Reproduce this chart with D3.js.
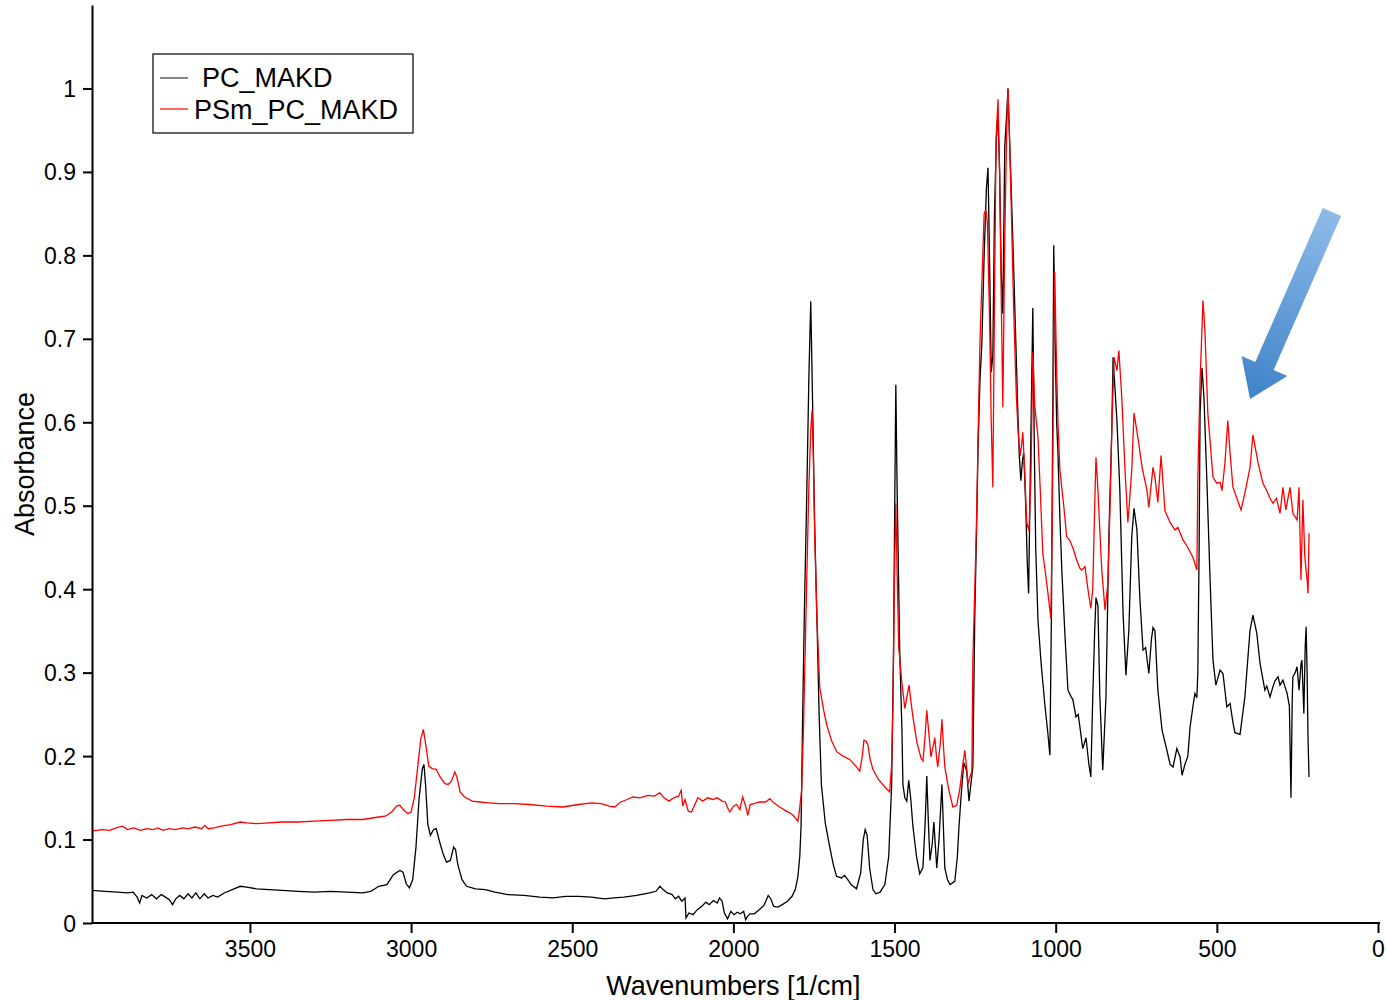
<!DOCTYPE html>
<html>
<head>
<meta charset="utf-8">
<script src="https://cdn.jsdelivr.net/npm/d3@7"></script>
<style>
  body { margin: 0; background: #fff; }
  .line { fill: none; stroke-width: 1.3px; }
  .line1 { stroke: #000; }
  .line2 { stroke: #ff0000; }
  .axis text { font-family: "Liberation Sans", Arial, sans-serif; font-size: 23px; fill: #000; }
  .axis path, .axis line { stroke: #000; stroke-width: 2px; }
  .title { font-family: "Liberation Sans", Arial, sans-serif; font-size: 27px; fill: #000; }
</style>
</head>
<body>
<script>
// spectra: [wavenumber, absorbance]
var pcMakd = [[3990,0.039],[3950,0.038],[3910,0.037],[3880,0.036],[3862,0.037],[3850,0.031],[3842,0.024],[3835,0.033],[3820,0.030],[3805,0.034],[3790,0.029],[3775,0.034],[3762,0.031],[3750,0.028],[3740,0.022],[3730,0.029],[3718,0.033],[3705,0.029],[3692,0.035],[3680,0.030],[3668,0.036],[3655,0.029],[3642,0.035],[3630,0.030],[3615,0.033],[3600,0.031],[3580,0.036],[3555,0.040],[3530,0.044],[3510,0.043],[3480,0.041],[3440,0.040],[3400,0.039],[3350,0.038],[3300,0.037],[3250,0.038],[3200,0.037],[3150,0.036],[3125,0.038],[3100,0.044],[3075,0.046],[3055,0.058],[3035,0.063],[3025,0.061],[3015,0.047],[3005,0.042],[2995,0.052],[2985,0.090],[2975,0.150],[2965,0.185],[2960,0.190],[2955,0.165],[2948,0.118],[2940,0.105],[2930,0.112],[2922,0.113],[2912,0.098],[2900,0.082],[2890,0.073],[2878,0.075],[2868,0.091],[2862,0.088],[2855,0.070],[2842,0.052],[2828,0.044],[2800,0.041],[2770,0.040],[2740,0.037],[2700,0.034],[2650,0.033],[2600,0.031],[2560,0.030],[2520,0.032],[2480,0.032],[2440,0.031],[2400,0.029],[2370,0.030],[2340,0.031],[2300,0.033],[2260,0.036],[2240,0.038],[2228,0.044],[2218,0.040],[2205,0.036],[2190,0.034],[2180,0.029],[2170,0.032],[2160,0.026],[2150,0.030],[2147,0.006],[2138,0.012],[2125,0.010],[2112,0.016],[2098,0.020],[2085,0.025],[2075,0.022],[2062,0.027],[2050,0.024],[2043,0.030],[2035,0.026],[2028,0.012],[2018,0.005],[2008,0.014],[1998,0.010],[1988,0.013],[1978,0.011],[1968,0.014],[1962,0.004],[1956,0.008],[1948,0.011],[1935,0.011],[1920,0.016],[1905,0.021],[1892,0.033],[1884,0.029],[1875,0.020],[1862,0.019],[1848,0.022],[1832,0.026],[1818,0.032],[1808,0.040],[1800,0.055],[1794,0.080],[1790,0.116],[1785,0.250],[1780,0.368],[1772,0.520],[1766,0.650],[1760,0.745],[1755,0.640],[1748,0.480],[1741,0.368],[1734,0.250],[1727,0.166],[1715,0.120],[1701,0.091],[1690,0.070],[1680,0.056],[1665,0.054],[1655,0.057],[1645,0.052],[1635,0.046],[1618,0.041],[1605,0.060],[1597,0.100],[1591,0.112],[1585,0.105],[1577,0.065],[1567,0.040],[1558,0.035],[1545,0.037],[1530,0.046],[1518,0.080],[1509,0.166],[1503,0.330],[1499,0.520],[1496,0.645],[1492,0.520],[1487,0.400],[1484,0.327],[1477,0.230],[1474,0.166],[1468,0.150],[1462,0.146],[1456,0.171],[1450,0.150],[1443,0.116],[1432,0.080],[1422,0.059],[1412,0.066],[1405,0.120],[1400,0.176],[1395,0.120],[1390,0.075],[1383,0.095],[1378,0.121],[1373,0.090],[1369,0.066],[1362,0.100],[1353,0.166],[1348,0.110],[1344,0.066],[1336,0.052],[1328,0.046],[1313,0.050],[1305,0.080],[1300,0.116],[1292,0.160],[1285,0.192],[1276,0.182],[1269,0.146],[1262,0.170],[1257,0.187],[1251,0.368],[1245,0.480],[1241,0.569],[1235,0.650],[1229,0.695],[1222,0.800],[1215,0.880],[1210,0.905],[1205,0.790],[1200,0.660],[1195,0.680],[1190,0.850],[1184,0.940],[1179,0.968],[1174,0.900],[1169,0.780],[1164,0.730],[1158,0.930],[1152,0.970],[1148,1.000],[1144,0.950],[1138,0.880],[1130,0.780],[1124,0.700],[1118,0.620],[1113,0.560],[1108,0.530],[1103,0.555],[1099,0.563],[1093,0.500],[1088,0.430],[1084,0.395],[1078,0.560],[1071,0.737],[1066,0.560],[1062,0.450],[1055,0.363],[1045,0.310],[1034,0.263],[1025,0.230],[1018,0.201],[1013,0.380],[1009,0.620],[1006,0.812],[1002,0.700],[997,0.600],[993,0.563],[987,0.486],[981,0.423],[971,0.343],[962,0.279],[952,0.271],[947,0.268],[937,0.247],[930,0.250],[916,0.209],[906,0.222],[897,0.190],[891,0.175],[885,0.271],[879,0.350],[875,0.390],[869,0.380],[863,0.271],[854,0.183],[844,0.271],[835,0.463],[826,0.590],[822,0.678],[816,0.640],[810,0.602],[801,0.519],[791,0.371],[782,0.297],[773,0.351],[764,0.463],[757,0.497],[748,0.471],[739,0.390],[729,0.327],[721,0.330],[711,0.299],[703,0.340],[698,0.354],[692,0.350],[683,0.279],[670,0.231],[655,0.207],[645,0.190],[636,0.187],[624,0.209],[614,0.199],[608,0.177],[599,0.190],[590,0.200],[583,0.235],[574,0.260],[568,0.275],[562,0.270],[559,0.300],[555,0.450],[552,0.611],[546,0.665],[540,0.630],[531,0.531],[521,0.411],[512,0.315],[503,0.285],[490,0.303],[481,0.299],[469,0.259],[459,0.263],[450,0.240],[444,0.228],[428,0.226],[413,0.271],[397,0.351],[388,0.369],[376,0.347],[366,0.311],[351,0.279],[345,0.284],[335,0.271],[326,0.283],[320,0.290],[310,0.295],[304,0.285],[295,0.291],[286,0.280],[282,0.275],[275,0.260],[270,0.150],[266,0.270],[264,0.295],[257,0.300],[251,0.307],[245,0.279],[239,0.310],[236,0.315],[230,0.251],[226,0.330],[223,0.355],[220,0.300],[217,0.219],[214,0.175]];

var psmPcMakd = [[3990,0.110],[3960,0.112],[3935,0.111],[3915,0.114],[3895,0.116],[3880,0.112],[3860,0.114],[3840,0.111],[3820,0.113],[3800,0.112],[3785,0.114],[3770,0.111],[3750,0.113],[3730,0.112],[3710,0.114],[3690,0.113],[3670,0.115],[3650,0.113],[3640,0.117],[3630,0.113],[3610,0.114],[3590,0.116],[3560,0.118],[3530,0.121],[3510,0.120],[3480,0.119],[3440,0.120],[3400,0.121],[3350,0.121],[3300,0.122],[3250,0.123],[3200,0.124],[3150,0.124],[3100,0.127],[3080,0.128],[3060,0.133],[3045,0.140],[3035,0.141],[3022,0.135],[3010,0.131],[3000,0.133],[2990,0.150],[2980,0.185],[2970,0.220],[2962,0.232],[2955,0.215],[2945,0.188],[2935,0.185],[2922,0.184],[2910,0.175],[2895,0.167],[2885,0.166],[2875,0.170],[2864,0.181],[2858,0.175],[2848,0.157],[2834,0.151],[2810,0.146],[2787,0.145],[2760,0.144],[2725,0.143],[2680,0.143],[2632,0.142],[2580,0.140],[2530,0.139],[2480,0.142],[2440,0.144],[2410,0.143],[2385,0.140],[2368,0.139],[2350,0.145],[2330,0.148],[2312,0.151],[2290,0.150],[2265,0.153],[2245,0.152],[2228,0.156],[2215,0.150],[2200,0.146],[2185,0.150],[2170,0.152],[2162,0.159],[2157,0.140],[2150,0.148],[2140,0.134],[2130,0.133],[2122,0.140],[2110,0.150],[2095,0.146],[2080,0.150],[2064,0.148],[2050,0.150],[2035,0.146],[2025,0.145],[2018,0.138],[2011,0.133],[2000,0.140],[1990,0.142],[1980,0.136],[1971,0.151],[1962,0.140],[1955,0.129],[1948,0.142],[1935,0.143],[1920,0.145],[1900,0.145],[1887,0.149],[1875,0.144],[1856,0.139],[1840,0.135],[1825,0.132],[1815,0.129],[1806,0.125],[1800,0.122],[1795,0.135],[1788,0.160],[1782,0.240],[1777,0.330],[1772,0.418],[1766,0.520],[1760,0.590],[1756,0.614],[1752,0.560],[1748,0.470],[1741,0.368],[1732,0.282],[1720,0.255],[1710,0.237],[1695,0.218],[1679,0.205],[1660,0.200],[1639,0.196],[1620,0.188],[1608,0.182],[1600,0.200],[1595,0.219],[1589,0.218],[1583,0.214],[1575,0.195],[1567,0.184],[1550,0.172],[1530,0.163],[1515,0.157],[1509,0.190],[1505,0.260],[1500,0.420],[1496,0.503],[1492,0.420],[1487,0.330],[1477,0.287],[1468,0.257],[1462,0.270],[1455,0.285],[1448,0.262],[1443,0.247],[1430,0.215],[1418,0.198],[1412,0.194],[1406,0.220],[1400,0.255],[1393,0.225],[1387,0.199],[1380,0.212],[1375,0.222],[1370,0.200],[1366,0.187],[1358,0.215],[1353,0.244],[1348,0.210],[1344,0.187],[1332,0.160],[1319,0.139],[1307,0.141],[1297,0.162],[1290,0.185],[1282,0.207],[1276,0.185],[1272,0.166],[1266,0.175],[1260,0.182],[1257,0.317],[1251,0.400],[1245,0.493],[1240,0.600],[1235,0.695],[1228,0.780],[1222,0.850],[1217,0.855],[1212,0.840],[1205,0.720],[1200,0.600],[1195,0.522],[1190,0.740],[1185,0.940],[1179,0.987],[1174,0.900],[1169,0.750],[1164,0.618],[1158,0.820],[1152,0.950],[1148,1.000],[1144,0.950],[1138,0.860],[1130,0.730],[1122,0.630],[1116,0.585],[1110,0.560],[1105,0.575],[1102,0.588],[1096,0.540],[1090,0.480],[1083,0.470],[1077,0.530],[1071,0.684],[1065,0.620],[1055,0.582],[1048,0.520],[1040,0.443],[1032,0.420],[1024,0.395],[1015,0.365],[1010,0.500],[1006,0.700],[1003,0.780],[998,0.680],[993,0.600],[987,0.543],[975,0.500],[966,0.463],[956,0.458],[947,0.450],[935,0.435],[925,0.425],[919,0.423],[909,0.427],[900,0.400],[891,0.377],[885,0.400],[879,0.500],[875,0.558],[869,0.519],[863,0.470],[857,0.423],[847,0.375],[838,0.407],[830,0.520],[826,0.590],[819,0.678],[810,0.662],[804,0.686],[795,0.630],[785,0.543],[776,0.480],[770,0.510],[764,0.543],[757,0.611],[745,0.582],[732,0.546],[717,0.519],[711,0.498],[698,0.546],[692,0.534],[683,0.504],[673,0.560],[661,0.494],[645,0.480],[630,0.471],[621,0.474],[605,0.459],[590,0.450],[574,0.438],[562,0.423],[559,0.531],[552,0.650],[543,0.746],[537,0.710],[528,0.611],[512,0.534],[500,0.527],[490,0.528],[484,0.518],[475,0.551],[466,0.602],[459,0.563],[450,0.522],[438,0.509],[425,0.495],[413,0.515],[397,0.546],[388,0.585],[372,0.551],[357,0.527],[345,0.518],[335,0.509],[326,0.503],[315,0.509],[304,0.491],[295,0.522],[286,0.495],[273,0.522],[264,0.491],[251,0.483],[245,0.522],[239,0.411],[233,0.507],[227,0.438],[220,0.411],[217,0.395],[214,0.467]];

var seriesNames = ["PC_MAKD", "PSm_PC_MAKD"];
var xTicks = [3500, 3000, 2500, 2000, 1500, 1000, 500, 0];
var yTicks = [0, 0.1, 0.2, 0.3, 0.4, 0.5, 0.6, 0.7, 0.8, 0.9, 1];
// arrow annotation, from tail to tip [wavenumber, absorbance]
var arrowFrom = [143, 0.852];
var arrowTo = [397, 0.628];

var margin = {top: 5, right: 8, bottom: 77, left: 92},
    width = 1386 - margin.left - margin.right,
    height = 1000 - margin.top - margin.bottom;

var x = d3.scaleLinear().domain([3990, 0]).range([0, 1286]);
var y = d3.scaleLinear().domain([0, 1.1]).range([height, 0]);

var valueline = d3.line()
    .x(function(d) { return x(d[0]); })
    .y(function(d) { return y(d[1]); });

var svg = d3.select("body").append("svg")
    .attr("width", 1386)
    .attr("height", 1000)
  .append("g")
    .attr("transform", "translate(" + margin.left + "," + margin.top + ")");

// the spectra
svg.append("path")
    .datum(pcMakd)
    .attr("class", "line line1")
    .attr("d", valueline);

svg.append("path")
    .datum(psmPcMakd)
    .attr("class", "line line2")
    .attr("d", valueline);

// x axis
var xAxis = svg.append("g")
    .attr("class", "axis")
    .attr("transform", "translate(0," + height + ")")
    .call(d3.axisBottom(x).tickValues(xTicks).tickSize(10).tickSizeOuter(0).tickPadding(8).tickFormat(d3.format("d")));
xAxis.select(".domain").attr("d", "M0,0H" + (x(0) + 2));

// y axis
var yAxis = svg.append("g")
    .attr("class", "axis")
    .call(d3.axisLeft(y).tickValues(yTicks).tickSize(9).tickSizeOuter(0).tickPadding(7)
      .tickFormat(function(d) { return String(+d.toFixed(1)); }));
yAxis.selectAll(".tick text").attr("dy", "0.35em");

// axis titles
svg.append("text")
    .attr("class", "title")
    .attr("x", x(2000))
    .attr("y", height + 72)
    .attr("text-anchor", "middle")
    .text("Wavenumbers [1/cm]");

svg.append("text")
    .attr("class", "title")
    .attr("transform", "rotate(-90)")
    .attr("x", -y(0.55))
    .attr("y", -58)
    .attr("text-anchor", "middle")
    .text("Absorbance");

// legend
var legend = svg.append("g").attr("transform", "translate(61,49)");
legend.append("rect")
    .attr("width", 260).attr("height", 79)
    .attr("fill", "#fff").attr("stroke", "#000").attr("stroke-width", 1.2);
var legColors = ["#333", "#ff0000"];
seriesNames.forEach(function(name, i) {
  legend.append("line")
    .attr("x1", 7).attr("x2", 35)
    .attr("y1", 24 + i * 31).attr("y2", 24 + i * 31)
    .attr("stroke", legColors[i]).attr("stroke-width", 1.2);
  legend.append("text")
    .attr("class", "title")
    .attr("x", i === 0 ? 49 : 41)
    .attr("y", 33 + i * 32)
    .text(name);
});

// blue arrow pointing at the new band
var defs = svg.append("defs");
var grad = defs.append("linearGradient")
    .attr("id", "arrowGrad")
    .attr("gradientUnits", "userSpaceOnUse")
    .attr("x1", x(arrowFrom[0])).attr("y1", y(arrowFrom[1]))
    .attr("x2", x(arrowTo[0])).attr("y2", y(arrowTo[1]));
grad.append("stop").attr("offset", "0%").attr("stop-color", "#8dbbe8");
grad.append("stop").attr("offset", "100%").attr("stop-color", "#3f82c8");

var ax0 = x(arrowFrom[0]), ay0 = y(arrowFrom[1]),
    ax1 = x(arrowTo[0]), ay1 = y(arrowTo[1]);
var len = Math.sqrt((ax1 - ax0) * (ax1 - ax0) + (ay1 - ay0) * (ay1 - ay0)),
    ux = (ax1 - ax0) / len, uy = (ay1 - ay0) / len,
    nx = -uy, ny = ux;
var shaft = 10, head = 25, headLen = 36;
var bx = ax1 - ux * headLen, by = ay1 - uy * headLen;
var pts = [
  [ax0 + nx * shaft, ay0 + ny * shaft],
  [bx + nx * shaft, by + ny * shaft],
  [bx + nx * head, by + ny * head],
  [ax1, ay1],
  [bx - nx * head, by - ny * head],
  [bx - nx * shaft, by - ny * shaft],
  [ax0 - nx * shaft, ay0 - ny * shaft]
];
svg.append("path")
    .attr("d", "M" + pts.map(function(p) { return p.join(","); }).join("L") + "Z")
    .attr("fill", "url(#arrowGrad)");
</script>
</body>
</html>
